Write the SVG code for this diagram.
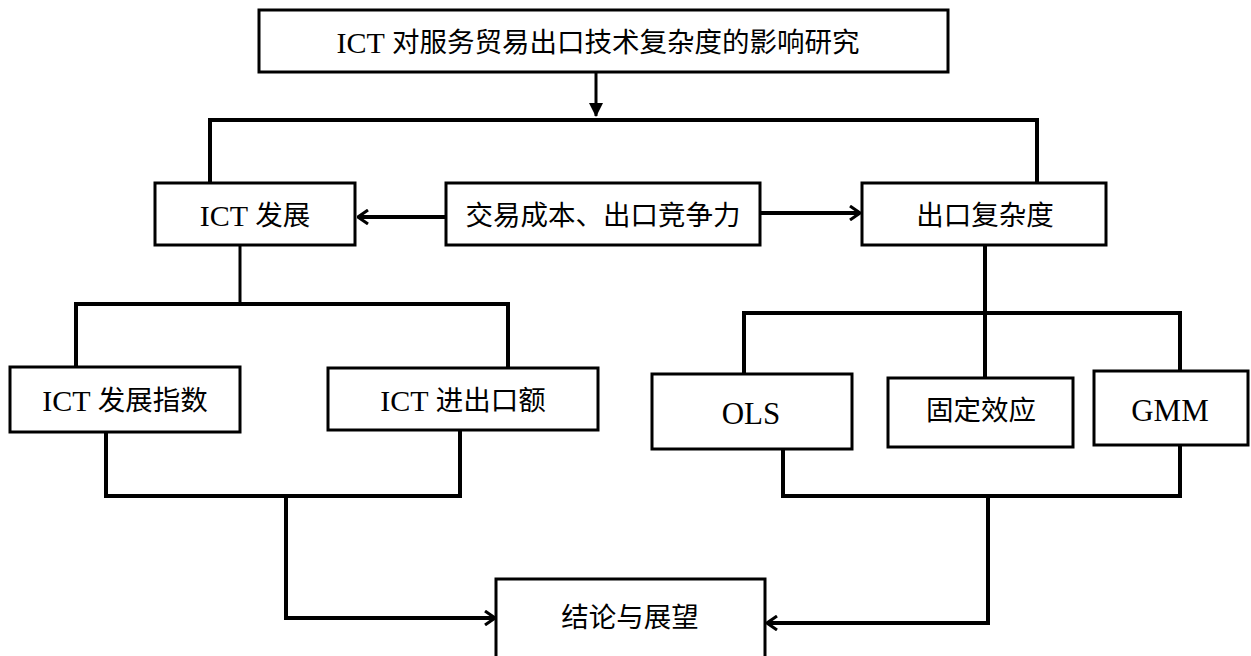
<svg xmlns="http://www.w3.org/2000/svg" width="1251" height="656" viewBox="0 0 1251 656">
<style>
.box{fill:#fff;stroke:#000;stroke-width:3}
.ln{fill:none;stroke:#000;stroke-width:4}
.thin{fill:none;stroke:#000;stroke-width:3}
text{font-family:"Liberation Serif","Noto Sans CJK SC",serif;font-size:27.5px;fill:#000;text-anchor:middle;dominant-baseline:central}
.lat{font-size:30px}
.big{font-size:31px}
</style>
<defs>
<marker id="ah" viewBox="0 0 12 16" refX="11" refY="8" markerWidth="12" markerHeight="16" markerUnits="userSpaceOnUse" orient="auto">
<path d="M1,1 L11,8 L1,15" fill="none" stroke="#000" stroke-width="3"/>
</marker>
<marker id="tri" viewBox="0 0 14 14" refX="13" refY="7" markerWidth="14" markerHeight="14" markerUnits="userSpaceOnUse" orient="auto">
<path d="M0,0 L14,7 L0,14 Z" fill="#000"/>
</marker>
</defs>
<rect width="1251" height="656" fill="#fff"/>
<g id="connectors">
<path class="thin" d="M596,72 V116" marker-end="url(#tri)"/>
<path class="ln" d="M210,183 V120 H1037 V183"/>
<path class="ln" d="M446,217 H358" marker-end="url(#ah)"/>
<path class="ln" d="M760,213 H860" marker-end="url(#ah)"/>
<path class="thin" d="M240,245 V304"/>
<path class="ln" d="M76,367 V304 H508 V368"/>
<path class="ln" d="M106,432 V496 H460 V430"/>
<path class="ln" d="M286,496 V618 H495" marker-end="url(#ah)"/>
<path class="ln" d="M985,245 V378"/>
<path class="ln" d="M744,374 V313 H1180 V371"/>
<path class="ln" d="M783,449 V496 H1180 V445"/>
<path class="ln" d="M988,496 V623 H767" marker-end="url(#ah)"/>
</g>
<g id="title"><rect class="box" x="259" y="10" width="689" height="62"/><text x="598" y="42"><tspan class="lat">ICT </tspan>对服务贸易出口技术复杂度的影响研究</text></g>
<g id="ict-dev"><rect class="box" x="155" y="183" width="200" height="62"/><text x="255" y="215"><tspan class="lat">ICT </tspan>发展</text></g>
<g id="mechanism"><rect class="box" x="446" y="183" width="314" height="62"/><text x="603" y="215">交易成本、出口竞争力</text></g>
<g id="complexity"><rect class="box" x="862" y="183" width="244" height="62"/><text x="985" y="215">出口复杂度</text></g>
<g id="ict-index"><rect class="box" x="10" y="367" width="230" height="65"/><text x="125" y="400"><tspan class="lat">ICT </tspan>发展指数</text></g>
<g id="ict-trade"><rect class="box" x="328" y="368" width="270" height="62"/><text x="463" y="400"><tspan class="lat">ICT </tspan>进出口额</text></g>
<g id="ols"><rect class="box" x="652" y="374" width="200" height="75"/><text class="big" x="751" y="413">OLS</text></g>
<g id="fe"><rect class="box" x="888" y="378" width="185" height="69"/><text x="981" y="410">固定效应</text></g>
<g id="gmm"><rect class="box" x="1094" y="371" width="154" height="74"/><text class="big" x="1170" y="410">GMM</text></g>
<g id="conclusion"><rect class="box" x="496" y="579" width="269" height="82"/><text x="630" y="617">结论与展望</text></g>
</svg>
